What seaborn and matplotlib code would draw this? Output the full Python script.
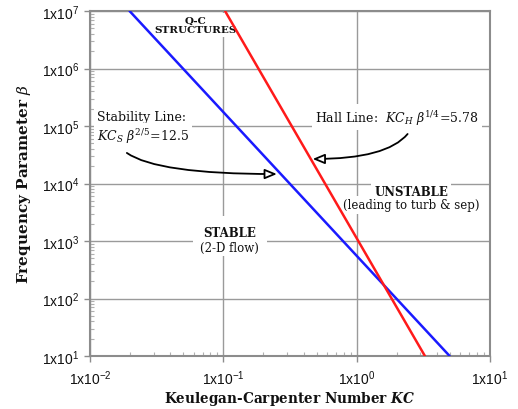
import matplotlib
matplotlib.use("Agg")
import matplotlib.pyplot as plt
import seaborn as sns
import numpy as np

# Stability line  KC_S * beta^(2/5) = 12.5  (end points on the chart)
stability_kc = [0.0198, 4.98]
stability_beta = [1e7, 1e1]
# Hall line  KC_H * beta^(1/4) = 5.78  (end points on the chart)
hall_kc = [0.103, 3.25]
hall_beta = [1e7, 1e1]

x_ticks = [1e-2, 1e-1, 1e0, 1e1]
x_tick_labels = [r"$\mathregular{1x10^{-2}}$", r"$\mathregular{1x10^{-1}}$",
                 r"$\mathregular{1x10^{0}}$", r"$\mathregular{1x10^{1}}$"]
y_ticks = [1e1, 1e2, 1e3, 1e4, 1e5, 1e6, 1e7]
y_tick_labels = [r"$\mathregular{1x10^{%d}}$" % k for k in range(1, 8)]

sns.set_theme(style="white")
plt.rcParams["font.family"] = ["DejaVu Serif"]
plt.rcParams["mathtext.fontset"] = "dejavuserif"
plt.rcParams["text.color"] = "#111111"
plt.rcParams["axes.labelcolor"] = "#111111"

fig = plt.figure(figsize=(5.18, 4.10), dpi=100)
ax = fig.add_axes([90 / 518, 1 - 357 / 410, 400 / 518, 345 / 410])

sns.lineplot(x=stability_kc, y=stability_beta, ax=ax, color="#1a1aff",
             lw=1.8, sort=False, zorder=3)
sns.lineplot(x=hall_kc, y=hall_beta, ax=ax, color="#ff1a1a",
             lw=1.8, sort=False, zorder=3)

ax.set_xscale("log")
ax.set_yscale("log")
ax.set_xlim(1e-2, 1e1)
ax.set_ylim(1e1, 1e7)
ax.set_xticks(x_ticks, labels=x_tick_labels)
ax.set_yticks(y_ticks, labels=y_tick_labels)
ax.xaxis.set_minor_locator(matplotlib.ticker.LogLocator(base=10, subs=np.arange(2, 10)))
ax.yaxis.set_minor_locator(matplotlib.ticker.LogLocator(base=10, subs=np.arange(2, 10)))
ax.xaxis.set_minor_formatter(matplotlib.ticker.NullFormatter())
ax.yaxis.set_minor_formatter(matplotlib.ticker.NullFormatter())

ax.grid(True, which="major", color="#9a9a9a", lw=1.0, zorder=0)
for s in ax.spines.values():
    s.set_color("#8c8c8c")
    s.set_linewidth(1.5)
ax.tick_params(which="major", direction="out", length=4, width=1, color="#8c8c8c",
               labelsize=10, labelcolor="#111111", labelfontfamily="Liberation Sans",
               bottom=True, left=True)
ax.tick_params(axis="x", which="major", pad=5)
ax.tick_params(axis="y", which="major", pad=4)
ax.tick_params(which="minor", direction="in", length=3, width=0.8, color="#b0b0b0",
               bottom=True, left=True)

ax.set_ylabel(r"Frequency Parameter $\beta$", fontsize=11, fontweight="bold",
              labelpad=6)
ax.set_xlabel(r"Keulegan-Carpenter Number $\boldsymbol{KC}$", fontsize=9.8,
              fontweight="bold", va="center")
ax.xaxis.set_label_coords(0.5, -0.122)

white_box = dict(boxstyle="square,pad=0.25", fc="white", ec="none")
fs = 8.5

ax.text(0.0617, 5.7e6, "Q-C\nSTRUCTURES", fontsize=7.5, fontweight="bold",
        ha="center", va="center", linespacing=1.0, bbox=white_box, zorder=2)

ax.text(0.01128, 1.49e5, "Stability Line:", fontsize=9, ha="left", va="center",
        bbox=white_box, zorder=2)
ax.text(0.01128, 6.7e4, r"$KC_S\ \beta^{2/5}\!=\!12.5$", fontsize=9,
        ha="left", va="center", bbox=white_box, zorder=2)

ax.text(0.484, 1.43e5, r"Hall Line:  $KC_H\ \beta^{1/4}\!=\!5.78$", fontsize=9,
        ha="left", va="center", bbox=white_box, zorder=2)

ax.text(2.57, 7.2e3, "UNSTABLE", fontsize=fs, fontweight="bold", ha="center",
        va="center", bbox=white_box, zorder=2)
ax.text(2.57, 4.23e3, "(leading to turb & sep)", fontsize=fs, ha="center",
        va="center", bbox=white_box, zorder=2)

ax.text(0.112, 1.38e3, "STABLE", fontsize=fs, fontweight="bold", ha="center",
        va="center", bbox=dict(boxstyle="square,pad=0.9", fc="white", ec="none"),
        zorder=2)
ax.text(0.112, 7.87e2, "(2-D flow)", fontsize=fs, ha="center", va="center",
        bbox=white_box, zorder=2)

arrow = dict(arrowstyle="-|>,head_length=0.6,head_width=0.25", fc="white",
             ec="black", lw=1.3, shrinkA=0, shrinkB=0)
ax.annotate("", xy=(0.252, 1.46e4), xytext=(0.0189, 3.4e4),
            arrowprops=dict(arrow, connectionstyle="angle3,angleA=-35,angleB=0"),
            zorder=4)
ax.annotate("", xy=(0.468, 2.67e4), xytext=(2.41, 7.26e4),
            arrowprops=dict(arrow, connectionstyle="angle3,angleA=-130,angleB=0"),
            zorder=4)

fig.savefig("out.png", dpi=100)
